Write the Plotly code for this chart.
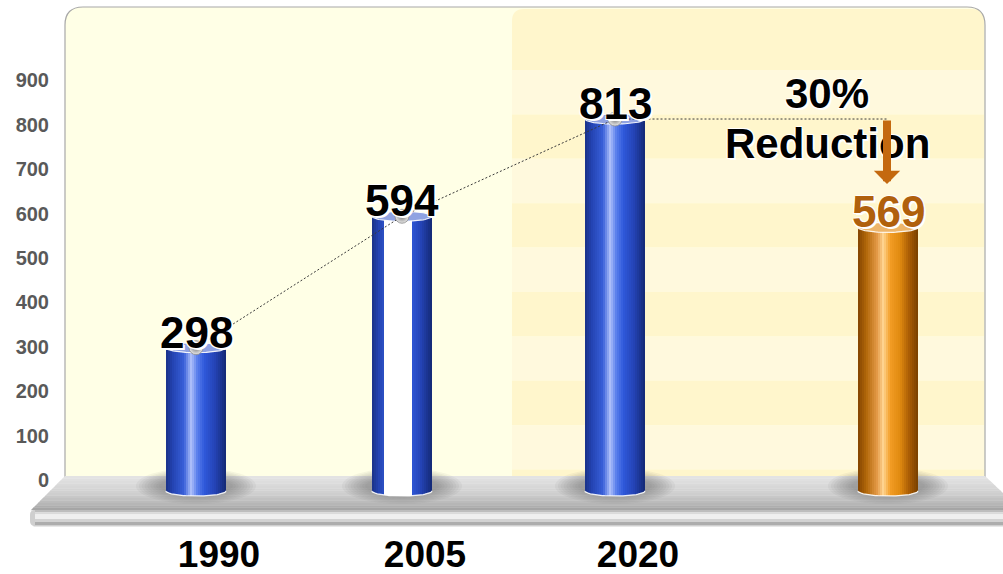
import math
import plotly.graph_objects as go

# ---------------- data ----------------
categories = ["1990", "2005", "2020", ""]
values = [298, 594, 813, 569]
tick_values = [0, 100, 200, 300, 400, 500, 600, 700, 800, 900]
reduction_lines = ["30%", "Reduction"]

# ---------------- layout constants (pixels) ----------------
W, H = 1003, 574
ML, MB = 56, 49
Y0_PX = 480          # pixel row of the value 0
PPU = 0.444          # pixels per value unit
BAR_X = [196, 402, 615, 888]
BAR_W = 60
BAR_BOTTOM_PX = 491
ELL_RY = 5           # half-height of the cylinder ellipses, px
N_STRIP = 30
ARROW_X = 887
ARROW_TIP_PX = 184
FONT = "Liberation Sans, Arial, sans-serif"

BLUE = [(0.0, "#1A3288"), (0.12, "#2444B4"), (0.30, "#3960DA"), (0.42, "#AEC0FA"),
        (0.52, "#5A7FEC"), (0.64, "#2F58DA"), (0.82, "#2443B4"), (1.0, "#142874")]
ORANGE = [(0.0, "#844400"), (0.14, "#B2680A"), (0.32, "#E49A48"), (0.42, "#FFD592"),
          (0.54, "#F29C24"), (0.70, "#E08A10"), (0.86, "#A65A04"), (1.0, "#784000")]
WHITE_BAND = (0.2, 0.67)   # 2005 column has a white centre band


def hex_rgb(h):
    h = h.lstrip("#")
    return tuple(int(h[i:i + 2], 16) for i in (0, 2, 4))


def ramp(stops, f):
    for (p0, c0), (p1, c1) in zip(stops[:-1], stops[1:]):
        if p0 <= f <= p1:
            t = (f - p0) / (p1 - p0)
            a, b = hex_rgb(c0), hex_rgb(c1)
            return "rgb(%d,%d,%d)" % tuple(round(a[k] + (b[k] - a[k]) * t) for k in range(3))
    return stops[-1][1]


def val_of_px(py):
    return (Y0_PX - py) / PPU


def P(x, y):
    return f"{(x - ML) / (W - ML):.5f},{(H - MB - y) / (H - MB):.5f}"


def px_paper_x(x):
    return (x - ML) / (W - ML)


def px_paper_y(y):
    return (H - MB - y) / (H - MB)


fig = go.Figure()

# ---- cylinders: each column is built from narrow vertical strips ----
for i in range(N_STRIP):
    f = (i + 0.5) / N_STRIP
    t = 2 * f - 1
    bottom_px = BAR_BOTTOM_PX + ELL_RY * math.sqrt(max(0.0, 1 - t * t))
    base_val = val_of_px(bottom_px)
    blue = ramp(BLUE, f)
    mid = "#FFFFFF" if WHITE_BAND[0] <= f <= WHITE_BAND[1] else blue
    colors = [blue, mid, blue, ramp(ORANGE, f)]
    fig.add_trace(go.Bar(
        x=BAR_X, y=[v - base_val for v in values], base=[base_val] * len(values),
        width=BAR_W / N_STRIP + 0.5, offset=-BAR_W / 2 + i * BAR_W / N_STRIP - 0.25,
        marker=dict(color=colors, line_width=0),
        hoverinfo="skip", showlegend=False,
    ))

# ---- top faces and bottom rims of the cylinders ----
ry_val = ELL_RY / PPU
top_fill = ["#8FA2E2", "#8FA2E2", "#8FA2E2", "#EDB56A"]
for xc, v, fc in zip(BAR_X, values, top_fill):
    th = [k * 2 * math.pi / 72 for k in range(73)]
    fig.add_trace(go.Scatter(
        x=[xc + BAR_W / 2 * math.cos(a) for a in th],
        y=[v + ry_val * math.sin(a) for a in th],
        mode="lines", fill="toself", fillcolor=fc,
        line=dict(color="rgba(255,255,255,0.9)", width=1.2),
        hoverinfo="skip", showlegend=False,
    ))
    th2 = [k * math.pi / 36 for k in range(37)]
    fig.add_trace(go.Scatter(
        x=[xc + BAR_W / 2 * math.cos(a) for a in th2],
        y=[val_of_px(BAR_BOTTOM_PX + ELL_RY * math.sin(a)) for a in th2],
        mode="lines", line=dict(color="rgba(255,255,255,0.9)", width=1.3),
        hoverinfo="skip", showlegend=False,
    ))

# ---- dotted trend line joining the column tops ----
fig.add_trace(go.Scatter(
    x=BAR_X[:3] + [ARROW_X], y=values[:3] + [values[2]],
    mode="lines", line=dict(color="#3A3A3A", width=1, dash="2px,2px"),
    hoverinfo="skip", showlegend=False,
))
fig.add_trace(go.Scatter(
    x=BAR_X[:3], y=values[:3], mode="markers",
    marker=dict(size=14, color="#E8E8E8", line=dict(width=0.8, color="#8A8A8A"),
                gradient=dict(type="radial", color="#7A7A7A")),
    hoverinfo="skip", showlegend=False,
))

# ---------------- background decoration ----------------
shapes = []


def path_shape(path, fill, line_color=None, line_width=0):
    return dict(type="path", path=path, xref="paper", yref="paper", layer="below",
                fillcolor=fill, line=dict(color=line_color or fill, width=line_width))


def rounded_top(x0, y0, x1, y1, r):
    return (f"M{P(x0, y1)} L{P(x0, y0 + r)} Q{P(x0, y0)} {P(x0 + r, y0)} "
            f"L{P(x1 - r, y0)} Q{P(x1, y0)} {P(x1, y0 + r)} L{P(x1, y1)} Z")


PANEL = (65, 7, 985, 477)
shapes.append(path_shape(rounded_top(*PANEL, 18), "#FFFFE6"))

# striped right-hand panel
RX0 = 512
edges = [9] + [70 + k * 44.4 for k in range(10)] + [477]
for k in range(len(edges) - 1):
    col = "#FFF6CC" if k % 2 == 0 else "#FFF9DD"
    y0, y1 = edges[k], edges[k + 1]
    if k == 0:
        shapes.append(path_shape(rounded_top(RX0, y0, PANEL[2] - 1, y1, 12), col))
    else:
        shapes.append(path_shape(
            f"M{P(RX0, y0)} L{P(PANEL[2] - 1, y0)} L{P(PANEL[2] - 1, y1)} L{P(RX0, y1)} Z", col))

# panel outline (left, top, right)
x0, y0, x1, y1 = PANEL
r = 18
shapes.append(dict(type="path", xref="paper", yref="paper", layer="below",
                   path=(f"M{P(x0, y1)} L{P(x0, y0 + r)} Q{P(x0, y0)} {P(x0 + r, y0)} "
                         f"L{P(x1 - r, y0)} Q{P(x1, y0)} {P(x1, y0 + r)} L{P(x1, y1)}"),
                   line=dict(color="#A8A8A8", width=1.2)))

# floor: sloping top surface
FB, FF = 476, 510
FLOOR = [(0.0, "#E4E4E4"), (0.55, "#CDCDCD"), (0.85, "#B4B4B4"), (1.0, "#A0A0A0")]
nb = 14
for k in range(nb):
    ya = FB + (FF - FB) * k / nb
    yb = FB + (FF - FB) * (k + 1) / nb + 0.3
    xl = lambda y: 65 - (y - FB) * (34 / 34)
    xr = lambda y: 985 + (y - FB) * (36 / 34)
    shapes.append(path_shape(
        f"M{P(xl(ya), ya)} L{P(xr(ya), ya)} L{P(xr(yb), yb)} L{P(xl(yb), yb)} Z",
        ramp(FLOOR, (k + 0.5) / nb)))

# floor: front rim
rim_bands = [(510, 512.5, "#BDBDBD"), (512.5, 514.5, "#DADADA"), (514.5, 519, "#EFEFEF"),
             (519, 522, "#D2D2D2"), (522, 525, "#ADADAD"), (525, 526.5, "#CFCFCF")]
for ya, yb, col in rim_bands:
    inset = 0
    if ya < 513 or yb > 523:
        inset = 2.5
    shapes.append(path_shape(
        f"M{P(31 + inset, ya)} L{P(1040, ya)} L{P(1040, yb)} L{P(31 + inset, yb)} Z", col))
shapes.append(path_shape(
    f"M{P(35, 510)} Q{P(30, 510)} {P(30, 515)} L{P(30, 521)} Q{P(30, 526)} {P(35, 526)} Z",
    "#CFCFCF"))

# soft shadows beneath the columns
n_sh = 9
for xc in BAR_X:
    for k in range(n_sh):
        s = 1 - k / n_sh
        rx = 34 + 26 * s
        ryy = 7 + 11 * s
        shapes.append(dict(type="circle", xref="paper", yref="paper", layer="below",
                           x0=px_paper_x(xc - rx), x1=px_paper_x(xc + rx),
                           y0=px_paper_y(BAR_BOTTOM_PX - 5 - ryy), y1=px_paper_y(BAR_BOTTOM_PX - 5 + ryy),
                           fillcolor="#505050", opacity=0.06, line=dict(width=0)))

# ---------------- text ----------------
SHADOW = "2px 2px 0px #ffffff, 1px -1px 0px #ffffff, -1px 1px 0px #ffffff"
annotations = []
label_colors = ["#000000", "#000000", "#000000", "#B0600C"]
for xc, v, c in zip(BAR_X, values, label_colors):
    annotations.append(dict(
        x=xc, y=v, xref="x", yref="y", text=f"{v}", showarrow=False,
        yanchor="bottom", yshift=-11,
        font=dict(family=FONT, size=44, color=c, weight=700, shadow=SHADOW)))

for txt, cy in zip(reduction_lines, [90, 140]):
    annotations.append(dict(
        x=827, y=val_of_px(cy), xref="x", yref="y", text=txt, showarrow=False,
        yanchor="middle", yshift=-3,
        font=dict(family=FONT, size=42, color="#000000", weight=700, shadow=SHADOW)))

annotations.append(dict(
    x=ARROW_X, y=val_of_px(ARROW_TIP_PX), xref="x", yref="y",
    ax=ARROW_X, ay=values[2], axref="x", ayref="y", text="",
    showarrow=True, arrowhead=1, arrowsize=0.55, arrowwidth=8, arrowcolor="#C4690F",
    standoff=0, startstandoff=0))

fig.update_layout(
    width=W, height=H,
    margin=dict(l=ML, r=0, t=0, b=MB, pad=0, autoexpand=False),
    paper_bgcolor="#FFFFFF", plot_bgcolor="rgba(0,0,0,0)",
    barmode="overlay", bargap=0, showlegend=False,
    shapes=shapes, annotations=annotations,
    xaxis=dict(range=[ML, W], showgrid=False, zeroline=False, showline=False,
               tickvals=BAR_X[:3], ticktext=categories[:3], ticks="",
               ticklabelshift=23, ticklabelstandoff=4, automargin=False,
               tickfont=dict(family=FONT, size=37, color="#000000", weight=700),
               fixedrange=True),
    yaxis=dict(range=[val_of_px(H - MB), val_of_px(0)], showgrid=False, zeroline=False,
               showline=False, tickvals=tick_values, ticks="", ticklabelstandoff=6,
               automargin=False,
               tickfont=dict(family=FONT, size=20, color="#595959", weight=700),
               fixedrange=True),
)

fig.write_html("out.html")
